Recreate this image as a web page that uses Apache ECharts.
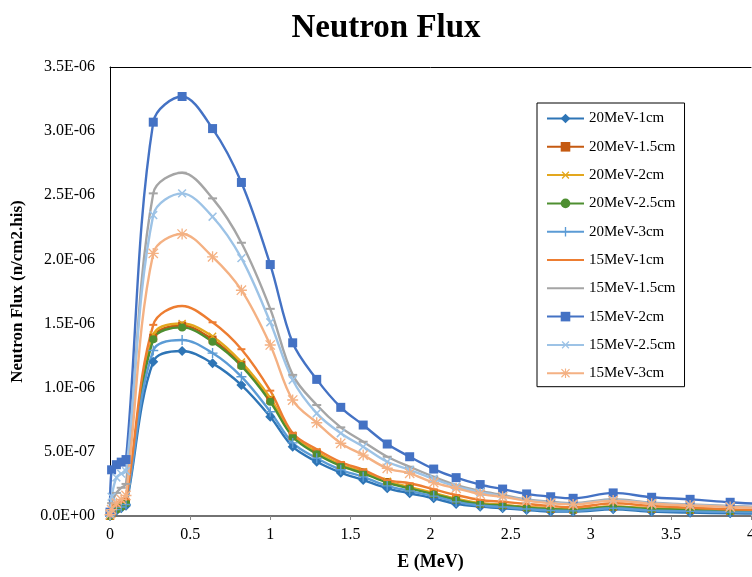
<!DOCTYPE html>
<html>
<head>
<meta charset="utf-8">
<script src="https://cdn.jsdelivr.net/npm/echarts@6/dist/echarts.min.js"></script>
<style>
  html, body { margin: 0; padding: 0; background: #fff; }
  #chart { width: 752px; height: 577px; }
</style>
</head>
<body>
<div id="chart"></div>
<script>
// Energy bins (MeV)
const energy = [0, 0.01, 0.04, 0.07, 0.1, 0.27, 0.45, 0.64, 0.82, 1.0, 1.14, 1.29, 1.44, 1.58, 1.73,
  1.87, 2.02, 2.16, 2.31, 2.45, 2.60, 2.75, 2.89, 3.14, 3.38, 3.62, 3.87, 4.11];

// Flux per bin, in units of 1E-06 n/cm2.his
const flux20MeV1cm   = [0.0, 0.02, 0.04, 0.06, 0.08, 1.203, 1.286, 1.19, 1.021, 0.774, 0.54, 0.423, 0.338, 0.28, 0.216,
  0.177, 0.138, 0.094, 0.073, 0.06, 0.047, 0.034, 0.034, 0.052, 0.034, 0.026, 0.021, 0.018];
const flux20MeV15cm  = [0.0, 0.02, 0.06, 0.08, 0.11, 1.39, 1.485, 1.375, 1.18, 0.905, 0.625, 0.49, 0.395, 0.34, 0.265,
  0.22, 0.175, 0.13, 0.097, 0.085, 0.068, 0.056, 0.05, 0.072, 0.056, 0.048, 0.039, 0.035];
const flux20MeV2cm   = [0.0, 0.02, 0.06, 0.09, 0.11, 1.41, 1.50, 1.40, 1.20, 0.92, 0.63, 0.50, 0.40, 0.345, 0.27,
  0.225, 0.18, 0.135, 0.10, 0.088, 0.07, 0.058, 0.052, 0.075, 0.058, 0.05, 0.04, 0.036];
const flux20MeV25cm  = [0.0, 0.02, 0.05, 0.07, 0.10, 1.377, 1.47, 1.358, 1.169, 0.891, 0.618, 0.483, 0.39, 0.333, 0.26,
  0.215, 0.17, 0.125, 0.093, 0.082, 0.065, 0.054, 0.048, 0.07, 0.054, 0.046, 0.038, 0.034];
const flux20MeV3cm   = [0.0, 0.02, 0.05, 0.07, 0.09, 1.29, 1.372, 1.27, 1.086, 0.813, 0.57, 0.45, 0.36, 0.305, 0.235,
  0.195, 0.155, 0.11, 0.082, 0.07, 0.055, 0.043, 0.04, 0.06, 0.043, 0.036, 0.03, 0.027];
const flux15MeV1cm   = [0.0, 0.03, 0.08, 0.11, 0.13, 1.49, 1.637, 1.51, 1.30, 0.977, 0.645, 0.52, 0.42, 0.36, 0.28,
  0.255, 0.208, 0.164, 0.125, 0.111, 0.094, 0.078, 0.068, 0.099, 0.078, 0.065, 0.052, 0.047];
const flux15MeV15cm  = [0.02, 0.10, 0.18, 0.22, 0.25, 2.515, 2.676, 2.476, 2.13, 1.615, 1.10, 0.865, 0.691, 0.579, 0.462,
  0.384, 0.306, 0.242, 0.195, 0.164, 0.13, 0.111, 0.099, 0.13, 0.104, 0.091, 0.078, 0.07];
const flux15MeV2cm   = [0.03, 0.36, 0.40, 0.42, 0.44, 3.07, 3.27, 3.02, 2.60, 1.96, 1.35, 1.065, 0.847, 0.709, 0.561,
  0.462, 0.366, 0.299, 0.245, 0.21, 0.172, 0.15, 0.138, 0.18, 0.146, 0.13, 0.107, 0.09];
const flux15MeV25cm  = [0.02, 0.15, 0.30, 0.33, 0.35, 2.346, 2.515, 2.333, 2.01, 1.51, 1.06, 0.80, 0.645, 0.54, 0.423,
  0.36, 0.29, 0.23, 0.185, 0.155, 0.123, 0.105, 0.094, 0.124, 0.099, 0.087, 0.074, 0.066];
const flux15MeV3cm   = [0.01, 0.05, 0.10, 0.13, 0.16, 2.047, 2.198, 2.02, 1.76, 1.333, 0.904, 0.727, 0.567, 0.475, 0.372,
  0.333, 0.26, 0.216, 0.171, 0.15, 0.12, 0.10, 0.09, 0.12, 0.095, 0.082, 0.07, 0.062];

const seriesNames = ['20MeV-1cm', '20MeV-1.5cm', '20MeV-2cm', '20MeV-2.5cm', '20MeV-3cm',
  '15MeV-1cm', '15MeV-1.5cm', '15MeV-2cm', '15MeV-2.5cm', '15MeV-3cm'];
const seriesValues = [flux20MeV1cm, flux20MeV15cm, flux20MeV2cm, flux20MeV25cm, flux20MeV3cm,
  flux15MeV1cm, flux15MeV15cm, flux15MeV2cm, flux15MeV25cm, flux15MeV3cm];

// Marker shapes
const PLUS = 'path://M4.3,0 H5.7 V4.3 H10 V5.7 H5.7 V10 H4.3 V5.7 H0 V4.3 H4.3 Z';
const STAR = 'path://M4.4,0 H5.6 V10 H4.4 Z M0,4.4 H10 V5.6 H0 Z M1.2,0.35 L9.65,8.8 L8.8,9.65 L0.35,1.2 Z M8.8,0.35 L9.65,1.2 L1.2,9.65 L0.35,8.8 Z';
const DASH = 'path://M0,0 H10 V2 H0 Z';

const styles = [
  { color: '#2E75B6', symbol: 'diamond', size: 10 },
  { color: '#C55A11', symbol: 'rect', size: 8 },
  { color: '#E3A71E', symbol: PLUS, size: 10, rotate: 45 },
  { color: '#4E8F31', symbol: 'circle', size: 8 },
  { color: '#5B9BD5', symbol: PLUS, size: 10 },
  { color: '#ED7D31', symbol: DASH, size: [8, 2], plainKey: true },
  { color: '#A5A5A5', symbol: DASH, size: [9, 2], plainKey: true },
  { color: '#4472C4', symbol: 'rect', size: 9 },
  { color: '#9DC3E6', symbol: PLUS, size: 11, rotate: 45 },
  { color: '#F4B183', symbol: STAR, size: 11 }
];

const FONT = '"Liberation Serif", "Times New Roman", serif';

function sciLabel(v) {
  const value = v * 1e-6;
  if (value === 0) return '0.0E+00';
  let exp = Math.floor(Math.log10(Math.abs(value)) + 1e-9);
  let mant = value / Math.pow(10, exp);
  const sign = exp < 0 ? '-' : '+';
  const e = Math.abs(exp);
  return mant.toFixed(1) + 'E' + sign + (e < 10 ? '0' + e : '' + e);
}

const series = seriesNames.map((name, i) => ({
  name: name,
  type: 'line',
  smooth: 0.35,
  data: energy.map((x, k) => [x, seriesValues[i][k]]),
  symbol: styles[i].symbol,
  symbolSize: styles[i].size,
  symbolRotate: styles[i].rotate || 0,
  showAllSymbol: true,
  lineStyle: { color: styles[i].color, width: 2.4 },
  itemStyle: { color: styles[i].color },
  clip: true
}));

// Legend keys: line-only keys for the dash-marked series
const legendData = seriesNames.map((name, i) =>
  styles[i].plainKey ? { name: name, itemStyle: { opacity: 0 } } : { name: name });

const chart = echarts.init(document.getElementById('chart'), null, { renderer: 'canvas' });
chart.setOption({
  animation: false,
  backgroundColor: '#fff',
  title: {
    text: 'Neutron Flux',
    left: 381,
    textAlign: 'center',
    top: 7,
    textStyle: { fontFamily: FONT, fontWeight: 'bold', fontSize: 33, color: '#000' }
  },
  grid: { left: 110, right: 1, top: 67, bottom: 61, containLabel: false, outerBoundsMode: 'none' },
  legend: {
    orient: 'vertical',
    left: 537,
    top: 103,
    padding: [8, 9, 6, 9],
    itemWidth: 37,
    itemHeight: 12,
    itemGap: 13.3,
    backgroundColor: '#fff',
    borderColor: '#000',
    borderWidth: 1,
    data: legendData,
    textStyle: { fontFamily: FONT, fontSize: 15, color: '#000' }
  },
  xAxis: [{
    type: 'value',
    min: 0,
    max: 4,
    interval: 0.5,
    name: 'E (MeV)',
    nameLocation: 'middle',
    nameGap: 37,
    nameTextStyle: { fontFamily: FONT, fontWeight: 'bold', fontSize: 18, color: '#000' },
    axisLine: { lineStyle: { color: '#444', width: 1.5 } },
    axisTick: { show: true, length: 4, lineStyle: { color: '#888' } },
    axisLabel: { fontFamily: FONT, fontSize: 16, color: '#000', margin: 11 },
    splitLine: { show: false }
  }, {
    type: 'value',
    position: 'top',
    min: 0,
    max: 4,
    axisLine: { show: true, lineStyle: { color: '#000', width: 1 } },
    axisTick: { show: false },
    axisLabel: { show: false },
    splitLine: { show: false }
  }],
  yAxis: {
    type: 'value',
    min: 0,
    max: 3.5,
    interval: 0.5,
    name: 'Neutron Flux (n/cm2.his)',
    nameLocation: 'middle',
    nameGap: 84,
    nameTextStyle: { fontFamily: FONT, fontWeight: 'bold', fontSize: 17, color: '#000' },
    axisLine: { show: true, lineStyle: { color: '#000', width: 1 } },
    axisTick: { show: false },
    axisLabel: { fontFamily: FONT, fontSize: 16, color: '#000', margin: 15, formatter: sciLabel },
    splitLine: { show: false }
  },
  series: series
});
</script>
</body>
</html>
